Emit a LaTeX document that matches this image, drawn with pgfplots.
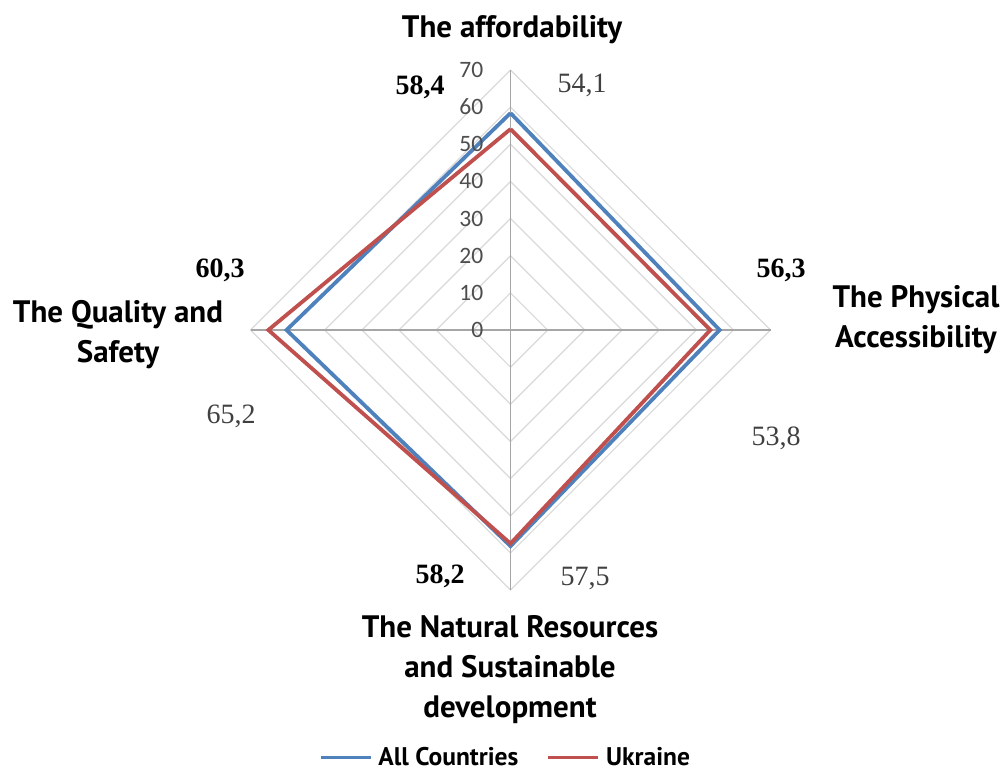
\documentclass[border=0pt]{standalone}
\usepackage{pgfplots}
\pgfplotsset{compat=1.18}
\usepackage{pgfplotstable}
\usepackage{fontspec}
\setmainfont{Liberation Serif}
\newfontfamily\catfont{PT Sans}
\newfontfamily\tickfont{Carlito}
\definecolor{cblue}{HTML}{4F81BD}
\definecolor{cred}{HTML}{C0504D}
\definecolor{gridc}{HTML}{D9D9D9}
\definecolor{spokec}{HTML}{A6A6A6}
\definecolor{tickc}{HTML}{4D4D4D}

% order: affordability (top), physical accessibility (right),
% natural resources (bottom), quality and safety (left), back to top
\pgfplotstableread{
x y
0 58.4
56.3 0
0 -58.2
-60.3 0
0 58.4
}\allc
\pgfplotstableread{
x y
0 54.1
53.8 0
0 -57.5
-65.2 0
0 54.1
}\ukr

\begin{document}
\begin{tikzpicture}
\useasboundingbox (-250.5pt,-184pt) rectangle (757.5pt,590pt);
\begin{axis}[
  scale only axis, width=520pt, height=520pt,
  xmin=-70, xmax=70, ymin=-70, ymax=70,
  axis lines=none, clip=false,
  legend style={at={(0.49,-0.322)}, anchor=center, draw=none, fill=none,
    inner sep=0pt, legend columns=2,
    font=\catfont\bfseries\fontsize{25.5}{29}\selectfont,
    /tikz/every even column/.append style={column sep=26pt},
    /tikz/every odd column/.append style={column sep=4pt}},
  legend image code/.code={\draw[#1] (0pt,0pt) -- (50pt,0pt);},
]
\pgfplotsinvokeforeach{10,20,30,40,50,60,70}{
  \addplot[gridc, line width=1.2pt, forget plot] coordinates {(0,#1) (#1,0) (0,-#1) (-#1,0) (0,#1)};
}
\addplot[spokec, line width=1.3pt, forget plot] coordinates {(0,-70) (0,70)};
\addplot[spokec, line width=1.3pt, forget plot] coordinates {(-70,0) (70,0)};
\addplot[cblue, line width=3.8pt, line join=miter] table[x=x,y=y] {\allc};
\addlegendentry{All Countries}
\addplot[cred, line width=3.8pt, line join=miter] table[x=x,y=y] {\ukr};
\addlegendentry{Ukraine}
\pgfplotsinvokeforeach{0,10,20,30,40,50,60,70}{
  \node[anchor=east, inner sep=0pt, xshift=-27pt, text=tickc,
    font=\tickfont\fontsize{23.5}{26}\selectfont] at (axis cs:0,#1) {#1};
}
\end{axis}
\begin{scope}[x=1pt, y=-1pt, shift={(-250.5pt,590pt)}]
\tikzset{cat/.style={font=\catfont\bfseries\fontsize{31}{40}\selectfont, align=center, anchor=base, inner sep=0pt},
  val/.style={font=\fontsize{28}{32}\selectfont, anchor=base, inner sep=0pt, text=black!75},
  bval/.style={font=\bfseries\fontsize{28}{32}\selectfont, anchor=base, inner sep=0pt}}
\node[cat] at (512,38) {The affordability};
\node[cat] at (118,362) {The Quality and\\Safety};
\node[cat] at (916,347) {The Physical\\Accessibility};
\node[cat] at (510,717) {The Natural Resources\\and Sustainable\\development};
\node[bval] at (420,95) {58,4};
\node[val] at (582,93) {54,1};
\node[bval] at (781,278) {56,3};
\node[val] at (776,445) {53,8};
\node[bval] at (440,583) {58,2};
\node[val] at (585,585) {57,5};
\node[bval] at (220,278) {60,3};
\node[val] at (231,423) {65,2};
\end{scope}
\end{tikzpicture}
\end{document}
